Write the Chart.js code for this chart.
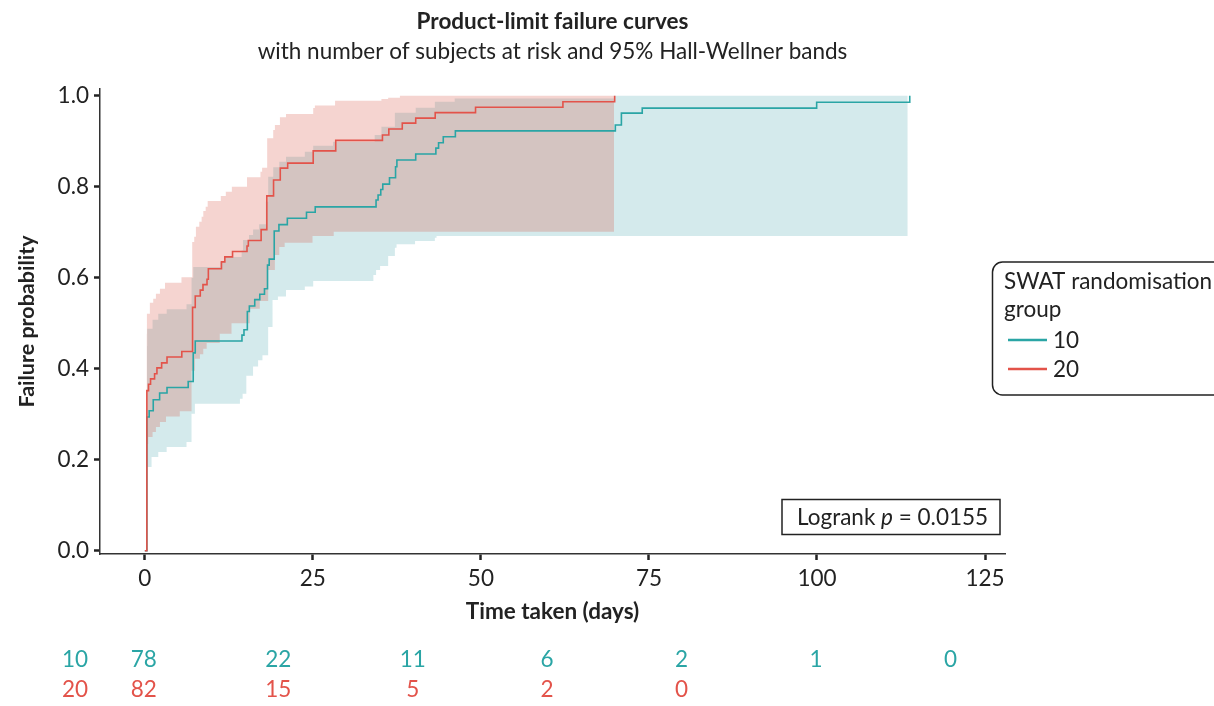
<!DOCTYPE html>
<html>
<head>
<script src="https://cdn.jsdelivr.net/npm/chart.js@4.4.0/dist/chart.umd.min.js"></script>
<style>
  body { margin: 0; background: #fff; }
</style>
</head>
<body>
<canvas id="kmChart" width="1214" height="706"></canvas>
<script>
// product-limit failure estimates, group 20 (red)
const g20Time = [0, 0.3, 0.55, 0.85, 1.45, 1.8, 2.5, 3.3, 5.5, 7.1, 7.5, 8.25, 8.65, 9.25, 9.45, 11.4, 11.9, 13.05, 15.2, 15.4, 17.3, 18.15, 19.15, 20.15, 21.25, 25.05, 28.4, 35.35, 36.3, 38.3, 40.3, 43.2, 49.2, 62.2, 69.9];
const g20Fail = [0, 0.352, 0.366, 0.378, 0.389, 0.402, 0.413, 0.426, 0.438, 0.535, 0.560, 0.573, 0.585, 0.597, 0.620, 0.635, 0.646, 0.658, 0.670, 0.682, 0.706, 0.780, 0.815, 0.841, 0.852, 0.879, 0.902, 0.914, 0.927, 0.940, 0.951, 0.963, 0.975, 0.987, 1.0];

// group 10 (teal)
const g10Time = [0, 0.3, 0.65, 1.25, 2.2, 3.3, 6.45, 7.2, 7.5, 14.45, 14.75, 15.25, 15.55, 16.35, 17.1, 17.8, 18.25, 18.5, 19.25, 19.95, 21.2, 24.05, 25.35, 34.4, 34.7, 35.1, 35.4, 36.4, 37.3, 37.5, 40.3, 43.3, 43.7, 44.4, 46.2, 70.0, 70.9, 74.0, 99.95, 113.8];
const g10Fail = [0, 0.294, 0.308, 0.332, 0.347, 0.359, 0.372, 0.435, 0.461, 0.474, 0.486, 0.526, 0.538, 0.552, 0.564, 0.576, 0.628, 0.641, 0.703, 0.717, 0.731, 0.744, 0.756, 0.771, 0.782, 0.794, 0.806, 0.820, 0.844, 0.859, 0.872, 0.885, 0.897, 0.910, 0.923, 0.936, 0.962, 0.973, 0.986, 1.0];

// 95% Hall-Wellner bands
const g20UpTime = [0.25, 0.3, 0.75, 1.25, 1.65, 2.25, 3.0, 5.45, 7.05, 7.35, 7.6, 8.1, 8.45, 8.7, 9.05, 9.35, 11.3, 12.05, 12.95, 15.2, 17.2, 17.45, 18.2, 19.1, 19.35, 20.1, 21.0, 25.05, 25.3, 28.3, 35.2, 36.2, 37.95, 69.8];
const g20Up = [0.477, 0.521, 0.545, 0.554, 0.565, 0.576, 0.589, 0.601, 0.679, 0.690, 0.712, 0.723, 0.734, 0.747, 0.756, 0.769, 0.780, 0.789, 0.800, 0.821, 0.833, 0.842, 0.907, 0.925, 0.936, 0.953, 0.960, 0.973, 0.979, 0.989, 0.993, 0.996, 1.0, 1.0];
const g20LoTime = [0.25, 0.5, 1.15, 1.65, 2.25, 3.15, 5.2, 6.95, 7.45, 8.2, 8.7, 9.2, 11.15, 12.9, 15.6, 17.1, 18.35, 19.35, 20.0, 20.8, 24.95, 28.1, 69.8];
const g20Lo = [0.235, 0.25, 0.261, 0.272, 0.283, 0.295, 0.307, 0.396, 0.422, 0.432, 0.444, 0.457, 0.477, 0.500, 0.532, 0.549, 0.617, 0.650, 0.668, 0.677, 0.692, 0.701, 0.701];

const g10UpTime = [0.3, 0.35, 1.15, 2.0, 3.25, 6.2, 6.95, 7.2, 11.2, 11.9, 14.4, 14.6, 15.5, 16.1, 17.0, 18.0, 18.35, 19.1, 20.0, 21.0, 23.8, 25.05, 28.0, 34.2, 35.2, 37.2, 40.3, 43.15, 46.1, 69.8, 113.5];
const g10Up = [0.45, 0.488, 0.508, 0.521, 0.531, 0.542, 0.60, 0.624, 0.635, 0.646, 0.66, 0.683, 0.694, 0.706, 0.718, 0.767, 0.822, 0.843, 0.855, 0.866, 0.877, 0.890, 0.899, 0.914, 0.932, 0.963, 0.974, 0.987, 0.994, 1.0, 1.0];
const g10LoTime = [0.3, 1.0, 2.0, 3.25, 6.2, 6.95, 7.45, 14.15, 14.55, 15.1, 16.1, 16.85, 17.5, 18.35, 19.0, 19.8, 21.0, 23.8, 25.05, 34.0, 34.4, 35.0, 36.2, 37.2, 37.45, 40.2, 43.15, 43.4, 113.5];
const g10Lo = [0.184, 0.206, 0.217, 0.228, 0.239, 0.301, 0.323, 0.334, 0.345, 0.385, 0.405, 0.419, 0.43, 0.492, 0.551, 0.559, 0.573, 0.581, 0.593, 0.606, 0.617, 0.626, 0.648, 0.666, 0.674, 0.681, 0.688, 0.692, 0.692];

// number at risk
const riskDays = [0, 20, 40, 60, 80, 100, 120];
const g10Risk = [78, 22, 11, 6, 2, 1, 0];
const g20Risk = [82, 15, 5, 2, 0];
const groups = ['10', '20'];

const TEAL = '#2aa5a5';
const RED = '#e3534a';
const TEXT = '#222';
const FS = 22.5;

const pts = (xs, ys) => xs.map((x, i) => ({x: x, y: ys[i]}));

Chart.defaults.font.family = 'Lato';
Chart.defaults.font.size = FS;
Chart.defaults.color = TEXT;

function roundBox(ctx, x, y, w, h, r) {
    ctx.beginPath();
    ctx.moveTo(x + r, y);
    ctx.arcTo(x + w, y, x + w, y + h, r);
    ctx.arcTo(x + w, y + h, x, y + h, r);
    ctx.arcTo(x, y + h, x, y, r);
    ctx.arcTo(x, y, x + w, y, r);
    ctx.closePath();
}

// at-risk table, legend box and logrank label
const extras = {
    id: 'extras',
    afterDraw(chart) {
        const ctx = chart.ctx;
        const xs = chart.scales.x;
        const font = FS + 'px Lato';
        ctx.save();
        ctx.font = font;
        ctx.textAlign = 'center';
        ctx.textBaseline = 'middle';

        const rows = [[g10Risk, TEAL, 660], [g20Risk, RED, 690]];
        rows.forEach(([vals, col, y], r) => {
            ctx.fillStyle = col;
            ctx.fillText(groups[r], 75, y);
            vals.forEach((v, i) => ctx.fillText(String(v), xs.getPixelForValue(riskDays[i]) - 1, y));
        });

        // legend
        ctx.lineWidth = 1.5;
        ctx.strokeStyle = TEXT;
        roundBox(ctx, 992.5, 262, 240, 133, 10);
        ctx.stroke();
        ctx.fillStyle = TEXT;
        ctx.textAlign = 'left';
        ctx.textBaseline = 'alphabetic';
        ctx.fillText('SWAT randomisation', 1004, 289);
        ctx.fillText('group', 1004, 317);
        [[TEAL, 340], [RED, 369]].forEach(([col, y], i) => {
            ctx.strokeStyle = col;
            ctx.lineWidth = 2.5;
            ctx.beginPath();
            ctx.moveTo(1008, y);
            ctx.lineTo(1047, y);
            ctx.stroke();
            ctx.fillStyle = TEXT;
            ctx.textBaseline = 'middle';
            ctx.fillText(groups[i], 1053, y + 1);
        });

        // logrank box
        ctx.lineWidth = 1.5;
        ctx.strokeStyle = TEXT;
        ctx.strokeRect(782, 499.5, 218, 35);
        ctx.textBaseline = 'alphabetic';
        ctx.fillStyle = TEXT;
        let tx = 797;
        const parts = [['Logrank ', font], ['p', 'italic ' + font], [' = 0.0155', font]];
        parts.forEach(([t, f]) => {
            ctx.font = f;
            ctx.fillText(t, tx, 525);
            tx += ctx.measureText(t).width;
        });
        ctx.restore();
    }
};

new Chart(document.getElementById('kmChart'), {
    type: 'line',
    data: {
        datasets: [
            { label: '20', data: pts(g20Time, g20Fail), borderColor: RED, borderWidth: 1.6, stepped: true, pointRadius: 0, fill: false },
            { label: '10', data: pts(g10Time, g10Fail), borderColor: TEAL, borderWidth: 1.6, stepped: true, pointRadius: 0, fill: false },
            { label: '20 upper', data: pts(g20UpTime, g20Up), borderWidth: 0, borderColor: 'transparent', backgroundColor: 'rgba(215,83,67,0.25)', stepped: true, pointRadius: 0, fill: '+1' },
            { label: '20 lower', data: pts(g20LoTime, g20Lo), borderWidth: 0, borderColor: 'transparent', stepped: true, pointRadius: 0, fill: false },
            { label: '10 upper', data: pts(g10UpTime, g10Up), borderWidth: 0, borderColor: 'transparent', backgroundColor: 'rgba(60,160,170,0.22)', stepped: true, pointRadius: 0, fill: '+1' },
            { label: '10 lower', data: pts(g10LoTime, g10Lo), borderWidth: 0, borderColor: 'transparent', stepped: true, pointRadius: 0, fill: false }
        ]
    },
    options: {
        responsive: false,
        animation: false,
        events: [],
        layout: { padding: { left: 0, right: 209, top: 0, bottom: 72 } },
        plugins: {
            legend: { display: false },
            tooltip: { enabled: false },
            title: {
                display: true,
                fullSize: false,
                text: 'Product-limit failure curves',
                color: TEXT,
                font: { size: FS, weight: 'bold' },
                padding: { top: 8.5, bottom: 0 }
            },
            subtitle: {
                display: true,
                fullSize: false,
                text: 'with number of subjects at risk and 95% Hall-Wellner bands',
                color: TEXT,
                font: { size: FS },
                padding: { top: 3, bottom: 23.5 }
            }
        },
        scales: {
            x: {
                type: 'linear',
                min: -6.67,
                max: 127.97,
                afterFit: s => { s.height = 80; },
                border: { color: '#333', width: 1.5 },
                grid: { drawOnChartArea: false, tickLength: 6, tickWidth: 2.5, tickColor: TEXT },
                ticks: { stepSize: 25, includeBounds: false, padding: 5.5, color: TEXT },
                title: { display: true, text: 'Time taken (days)', color: TEXT, font: { size: FS, weight: 'bold' }, padding: { top: 0, bottom: 8.5 } }
            },
            y: {
                min: -0.007,
                max: 1.015,
                afterFit: s => { s.width = 100; },
                border: { color: '#333', width: 1.5 },
                grid: { drawOnChartArea: false, tickLength: 6, tickWidth: 2.5, tickColor: TEXT },
                ticks: { stepSize: 0.2, includeBounds: false, padding: 5, color: TEXT, callback: v => v.toFixed(1) },
                title: { display: true, text: 'Failure probability', color: TEXT, font: { size: 21.5, weight: 'bold' }, padding: { top: 14, bottom: 0 } }
            }
        }
    },
    plugins: [extras]
});
</script>
</body>
</html>
